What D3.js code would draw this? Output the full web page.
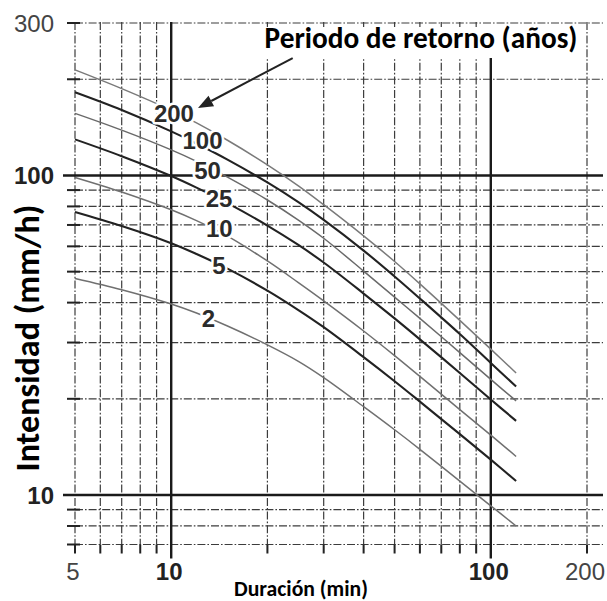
<!DOCTYPE html>
<html><head><meta charset="utf-8">
<script src="https://cdn.jsdelivr.net/npm/d3@7"></script>
<style>html,body{margin:0;padding:0;background:#fff;} svg{display:block;}</style>
</head><body><svg id="c" width="607" height="601"></svg>
<script>
// ---------- data ----------
const durations = [5, 7, 10, 12, 15, 20, 25, 30, 40, 50, 60, 80, 100, 120];
const returnPeriods = ["200", "100", "50", "25", "10", "5", "2"];
const i200 = [214, 187, 160, 146, 128.9, 108, 92.8, 81, 64.7, 53.8, 45.8, 35.2, 28.6, 24.1];
const i100 = [182, 160.2, 137.4, 125.9, 112.1, 95.1, 82.5, 72.6, 58.2, 48.3, 41.2, 31.9, 25.9, 21.85];
const i50  = [156.4, 138.6, 120.2, 110.7, 98.8, 83.8, 72.5, 63.6, 50.2, 41.6, 35.7, 27.9, 23.0, 19.7];
const i25  = [129.7, 114.9, 99.6, 91.6, 81.9, 69.7, 60.6, 53.4, 42.7, 35.7, 30.7, 24.1, 19.9, 17.06];
const i10  = [98.6, 88.8, 78.1, 72.2, 64.6, 54.0, 46.2, 40.5, 32.6, 27.3, 23.5, 18.5, 15.4, 13.2];
const i5   = [76.9, 69.5, 61.4, 56.8, 51.1, 43.6, 37.9, 33.5, 27.0, 22.7, 19.6, 15.5, 12.9, 11.06];
const i2   = [47.6, 43.9, 39.6, 37.1, 33.8, 29.5, 26.2, 23.3, 18.9, 16.0, 13.9, 11.05, 9.25, 8.0];
const seriesValues = [i200, i100, i50, i25, i10, i5, i2];
// label anchors (data coordinates: duration, intensity)
const labelDuration = [10.2, 12.53, 12.99, 14.11, 14.14, 14.11, 13.08];
const labelIntensity = [156.3, 128.2, 104, 84.7, 68.2, 52.4, 35.8];
// arrow (data coordinates)
const arrowFrom = [24.0, 233];
const arrowTo = [12.13, 162.6];

const xMinorTicks = [5, 6, 7, 8, 9, 20, 30, 40, 50, 60, 70, 80, 90, 200];
const xMajorTicks = [10, 100];
const yMinorTicks = [7, 8, 9, 20, 30, 40, 50, 60, 70, 80, 90, 200, 300];
const yMajorTicks = [10, 100];
const xTickValues = [5, 10, 100, 200];
const xTickLabels = ["5", "10", "100", "200"];
const xTickBold = [false, true, true, false];
const yTickValues = [10, 100, 300];
const yTickLabels = ["10", "100", "300"];
const yTickBold = [true, true, false];

const xTitle = "Duración (min)";
const yTitle = "Intensidad (mm/h)";
const legendTitle = "Periodo de retorno (años)";

// ---------- drawing ----------
(function () {
const svg = d3.select("#c");
const x = d3.scaleLog().domain([5, 200]).range([75, 587]);
const y = d3.scaleLog().domain([7, 300]).range([544.5, 23]);

const gTop = 22, gBottom = y(7), gLeft = x(5), gRight = 603;
const gridCol = "#3c3c3c";
const dash = "8,2,1.6,2";

const g = svg.append("g");
g.selectAll(".vmin").data(xMinorTicks).enter().append("line")
  .attr("x1", d => x(d)).attr("x2", d => x(d))
  .attr("y1", gTop).attr("y2", gBottom)
  .attr("stroke", gridCol).attr("stroke-width", 1.2).attr("stroke-dasharray", dash);
g.selectAll(".hmin").data(yMinorTicks).enter().append("line")
  .attr("x1", gLeft).attr("x2", gRight)
  .attr("y1", d => y(d)).attr("y2", d => y(d))
  .attr("stroke", gridCol).attr("stroke-width", 1.2).attr("stroke-dasharray", dash);
g.selectAll(".vst").data(xMinorTicks).enter().append("line")
  .attr("x1", d => x(d)).attr("x2", d => x(d))
  .attr("y1", gBottom).attr("y2", gBottom + 9)
  .attr("stroke", "#222").attr("stroke-width", 2);
g.selectAll(".hst").data(yMinorTicks).enter().append("line")
  .attr("x1", gLeft - 8).attr("x2", gLeft + 5)
  .attr("y1", d => y(d)).attr("y2", d => y(d))
  .attr("stroke", "#222").attr("stroke-width", 2);

g.append("rect").attr("x", 262).attr("y", 27).attr("width", 318).attr("height", 31).attr("fill", "#fff");

g.selectAll(".vmaj").data(xMajorTicks).enter().append("line")
  .attr("x1", d => x(d)).attr("x2", d => x(d))
  .attr("y1", d => d === 100 ? 58 : gTop).attr("y2", gBottom + 14)
  .attr("stroke", "#1a1a1a").attr("stroke-width", 2.4);
g.selectAll(".hmaj").data(yMajorTicks).enter().append("line")
  .attr("x1", gLeft - 12).attr("x2", gRight)
  .attr("y1", d => y(d)).attr("y2", d => y(d))
  .attr("stroke", "#1a1a1a").attr("stroke-width", 2.4);

const line = d3.line().x(d => x(d[0])).y(d => y(d[1])).curve(d3.curveCatmullRom.alpha(0.5));
const curveColor = ["#7a7a7a", "#222", "#6a6a6a", "#222", "#707070", "#222", "#707070"];
const curveWidth = [1.5, 2.1, 1.5, 2.1, 1.5, 2.1, 1.5];
seriesValues.forEach((vals, i) => {
  g.append("path")
    .datum(durations.map((d, j) => [d, vals[j]]))
    .attr("d", line).attr("fill", "none")
    .attr("stroke", curveColor[i]).attr("stroke-width", curveWidth[i]);
});

g.selectAll(".clab").data(returnPeriods).enter().append("text")
  .attr("x", (d, i) => x(labelDuration[i]))
  .attr("y", (d, i) => y(labelIntensity[i]))
  .attr("text-anchor", "middle").attr("dominant-baseline", "central")
  .attr("font-family", "'Liberation Sans', Arial, sans-serif")
  .attr("font-weight", "bold").attr("font-size", 24)
  .attr("fill", "#2b2b2b")
  .attr("stroke", "#fff").attr("stroke-width", 5).attr("paint-order", "stroke")
  .attr("stroke-linejoin", "round")
  .text(d => d);

function fit(sel, target) {
  const w = sel.node().getComputedTextLength();
  const fs = parseFloat(sel.attr("font-size"));
  if (w > 0) sel.attr("font-size", fs * target / w);
}
const lt = g.append("text").attr("x", 421).attr("y", 48)
  .attr("text-anchor", "middle")
  .attr("font-family", "Carlito, Lato, 'Open Sans', sans-serif")
  .attr("font-weight", "bold").attr("font-size", 22).attr("fill", "#000")
  .text(legendTitle);
fit(lt, 313);

const ax1 = x(arrowFrom[0]), ay1 = y(arrowFrom[1]), ax2 = x(arrowTo[0]), ay2 = y(arrowTo[1]);
const ang = Math.atan2(ay2 - ay1, ax2 - ax1);
const hl = 15, hw = 6;
const bx = ax2 - hl * Math.cos(ang), by = ay2 - hl * Math.sin(ang);
g.append("line").attr("x1", ax1).attr("y1", ay1).attr("x2", bx).attr("y2", by)
  .attr("stroke", "#222").attr("stroke-width", 2);
g.append("path")
  .attr("d", `M${ax2},${ay2}L${bx + hw * Math.sin(ang)},${by - hw * Math.cos(ang)}L${bx - hw * Math.sin(ang)},${by + hw * Math.cos(ang)}Z`)
  .attr("fill", "#222");

g.selectAll(".xl").data(xTickLabels).enter().append("text")
  .attr("x", (d, i) => x(xTickValues[i]) - 2).attr("y", 580)
  .attr("text-anchor", "middle")
  .attr("font-family", "'Liberation Sans', Arial, sans-serif")
  .attr("font-size", 24)
  .attr("font-weight", (d, i) => xTickBold[i] ? "bold" : "normal")
  .attr("fill", (d, i) => xTickBold[i] ? "#222" : "#444")
  .text(d => d);
g.selectAll(".yl").data(yTickLabels).enter().append("text")
  .attr("x", 54).attr("y", (d, i) => y(yTickValues[i]))
  .attr("text-anchor", "end").attr("dominant-baseline", "central")
  .attr("font-family", "'Liberation Sans', Arial, sans-serif")
  .attr("font-size", 24)
  .attr("font-weight", (d, i) => yTickBold[i] ? "bold" : "normal")
  .attr("fill", (d, i) => yTickBold[i] ? "#222" : "#444")
  .text(d => d);

const xt = g.append("text").attr("x", 301).attr("y", 596)
  .attr("text-anchor", "middle")
  .attr("font-family", "Carlito, Lato, 'Open Sans', sans-serif")
  .attr("font-weight", "bold").attr("font-size", 18).attr("fill", "#000")
  .text(xTitle);
fit(xt, 134);
const yt = g.append("text").attr("transform", "translate(39,338) rotate(-90)")
  .attr("text-anchor", "middle")
  .attr("font-family", "Carlito, Lato, 'Open Sans', sans-serif")
  .attr("font-weight", "bold").attr("font-size", 22).attr("fill", "#000")
  .text(yTitle);
fit(yt, 267);
})();
</script>
</body></html>
